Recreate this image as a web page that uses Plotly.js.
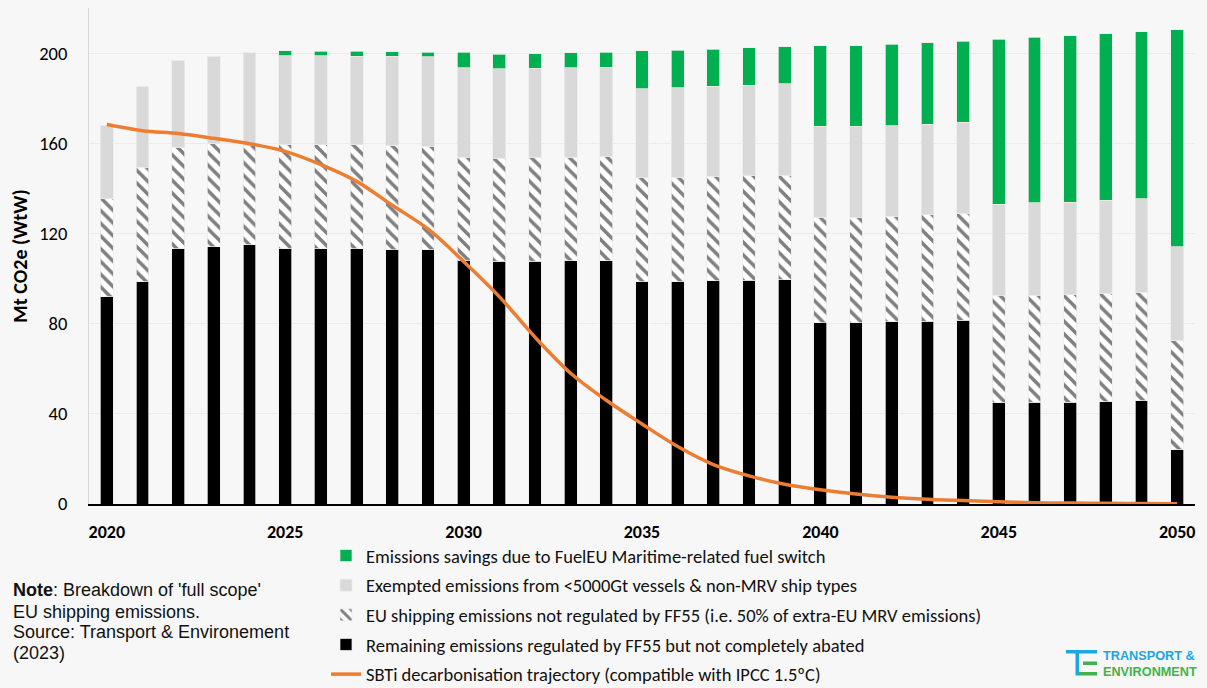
<!DOCTYPE html>
<html>
<head>
<meta charset="utf-8">
<script src="https://cdn.plot.ly/plotly-3.0.1.min.js"></script>
<style>
  html, body { margin: 0; padding: 0; background: #f7f7f7; }
  #chart { width: 1207px; height: 688px; }
</style>
</head>
<body>
<div id="chart"></div>
<script>
// ---------- DATA ----------
const years = [2020, 2021, 2022, 2023, 2024, 2025, 2026, 2027, 2028, 2029,
               2030, 2031, 2032, 2033, 2034, 2035, 2036, 2037, 2038, 2039,
               2040, 2041, 2042, 2043, 2044, 2045, 2046, 2047, 2048, 2049, 2050];

const remainingFF55 = [92.0, 98.5, 113.2, 114.1, 114.9, 113.2, 113.2, 113.2, 112.8, 112.8,
                       108.0, 107.7, 107.7, 108.0, 108.0, 98.5, 98.5, 99.0, 99.3, 99.4,
                       80.5, 80.5, 80.8, 81.1, 81.4, 45.0, 45.1, 45.1, 45.4, 45.7, 24.0];

const notRegulatedFF55 = [43.3, 50.8, 45.0, 45.7, 44.2, 46.2, 46.2, 46.2, 46.4, 45.9,
                          45.8, 45.6, 45.9, 45.8, 46.1, 46.1, 46.4, 46.3, 46.3, 46.5,
                          46.8, 46.8, 46.8, 47.1, 47.4, 47.5, 47.5, 47.8, 48.1, 48.3, 48.5];

const exempted = [32.7, 36.0, 38.6, 38.8, 41.0, 39.5, 39.5, 39.2, 39.4, 39.6,
                  39.8, 39.7, 39.7, 39.8, 39.6, 39.6, 39.8, 40.0, 40.1, 40.4,
                  40.2, 40.2, 40.2, 40.2, 40.5, 40.5, 41.0, 41.0, 41.2, 41.3, 41.7];

const fuelEUSavings = [0, 0, 0, 0, 0, 2.2, 1.9, 2.2, 2.1, 2.1,
                       6.8, 6.5, 6.5, 6.5, 6.7, 16.8, 16.6, 16.4, 16.6, 16.5,
                       35.8, 35.8, 36.1, 36.1, 36.0, 73.1, 73.4, 73.7, 73.8, 74.2, 96.2];

const sbtiTrajectory = [168.3, 165.6, 164.3, 162.2, 159.8, 156.4, 150.5, 143.1, 132.5, 122.0,
                        107.6, 92.0, 74.0, 58.0, 46.0, 35.5, 25.5, 17.5, 12.5, 8.8,
                        6.3, 4.4, 3.0, 2.1, 1.5, 1.0, 0.6, 0.4, 0.3, 0.2, 0.1];

const seriesNames = [
  "Emissions savings due to FuelEU Maritime-related fuel switch",
  "Exempted emissions from <5000Gt vessels & non-MRV ship types",
  "EU shipping emissions not regulated by FF55 (i.e. 50% of extra-EU MRV emissions)",
  "Remaining emissions regulated by FF55 but not completely abated",
  "SBTi decarbonisation trajectory (compatible with IPCC 1.5ºC)"
];

const xTickVals = [2020, 2025, 2030, 2035, 2040, 2045, 2050];
const yTickVals = [0, 40, 80, 120, 160, 200];

const noteLines = [
  "<b>Note</b>: Breakdown of 'full scope'",
  "EU shipping emissions.",
  "Source: Transport &amp; Environement",
  "(2023)"
];
const logoLine1 = "TRANSPORT &amp;";
const logoLine2 = "ENVIRONMENT";

// ---------- LAYOUT HELPERS ----------
const ML = 89, MT = 8, MR = 12, MB = 184;
const PW = 1207 - ML - MR, PH = 688 - MT - MB;
const px = p => (p - ML) / PW;
const py = p => (MT + PH - p) / PH;

const calibri = "Carlito, Lato, 'Open Sans', sans-serif";
const arial = "'Liberation Sans', Arial, sans-serif";
const barLine = { color: "rgba(235,235,235,0.9)", width: 0.8 };

const traces = [
  {
    type: "bar", x: years, y: remainingFF55, name: seriesNames[3],
    marker: { color: "#000000", line: barLine },
    legendgroup: "g4", legendrank: 4
  },
  {
    type: "bar", x: years, y: notRegulatedFF55, name: seriesNames[2],
    marker: {
      color: "#ffffff", line: barLine,
      pattern: { shape: "\\", fgcolor: "#7f7f7f", bgcolor: "#ffffff", size: 9, solidity: 0.4 }
    },
    legendgroup: "g3", legendrank: 3
  },
  {
    type: "bar", x: years, y: exempted, name: seriesNames[1],
    marker: { color: "#d9d9d9", line: barLine },
    legendgroup: "g2", legendrank: 2
  },
  {
    type: "bar", x: years, y: fuelEUSavings, name: seriesNames[0],
    marker: { color: "#00b050", line: barLine },
    legendgroup: "g1", legendrank: 1
  },
  {
    type: "scatter", mode: "lines", x: years, y: sbtiTrajectory, name: seriesNames[4],
    line: { color: "#ed7d31", width: 3.5, shape: "spline", smoothing: 1 },
    legendgroup: "g5", legendrank: 5
  }
];

const blue = "#1ba6e4", green = "#3db54a";
const rect = (x0, y0, x1, y1, c) => ({
  type: "rect", xref: "paper", yref: "paper",
  x0: px(x0), x1: px(x1), y0: py(y1), y1: py(y0),
  fillcolor: c, line: { width: 0 }, layer: "above"
});

const noteY = [590, 611.5, 632, 653];
const noteAnnotations = noteLines.map((t, i) => ({
  xref: "paper", yref: "paper", x: px(11), y: py(noteY[i]),
  xanchor: "left", yanchor: "middle", align: "left", showarrow: false,
  text: t, font: { family: arial, size: 18, color: "#111" }
}));

const layout = {
  width: 1207, height: 688,
  margin: { l: ML, r: MR, t: MT, b: MB, pad: 0, autoexpand: false },
  paper_bgcolor: "#f7f7f7",
  plot_bgcolor: "#f7f7f7",
  barmode: "stack",
  bargap: 0.64,
  showlegend: true,
  font: { family: calibri, color: "#000000" },
  xaxis: {
    type: "linear",
    range: [2019.5, 2050.5],
    tickmode: "array",
    tickvals: xTickVals,
    ticktext: xTickVals.map(String),
    tickfont: { family: calibri, size: 18, weight: 700, color: "#000" },
    ticks: "",
    ticklabelstandoff: 10,
    showgrid: false,
    zeroline: false,
    showline: true, linecolor: "#000000", linewidth: 2,
    automargin: false,
    fixedrange: true
  },
  yaxis: {
    range: [0, 220],
    tickmode: "array",
    tickvals: yTickVals,
    tickfont: { family: calibri, size: 18.5, color: "#000" },
    ticks: "",
    ticklabelstandoff: 17,
    showgrid: true, gridcolor: "#ebebeb", gridwidth: 1,
    zeroline: false,
    showline: true, linecolor: "#d9d9d9", linewidth: 1,
    title: { text: "<b>Mt CO2e (WtW)</b>", font: { family: calibri, size: 20, color: "#000" }, standoff: 6 },
    automargin: false,
    fixedrange: true
  },
  legend: {
    x: px(326), y: py(537), xanchor: "left", yanchor: "top",
    orientation: "v",
    traceorder: "grouped",
    tracegroupgap: 2.6,
    bgcolor: "rgba(0,0,0,0)",
    font: { family: calibri, size: 18.5, color: "#111" },
    itemwidth: 30
  },
  annotations: noteAnnotations.concat([
    {
      xref: "paper", yref: "paper", x: px(1101), y: py(656),
      xanchor: "left", yanchor: "middle", showarrow: false,
      text: "<b>" + logoLine1 + "</b>", font: { family: arial, size: 12.7, color: blue }
    },
    {
      xref: "paper", yref: "paper", x: px(1101), y: py(672),
      xanchor: "left", yanchor: "middle", showarrow: false,
      text: "<b>" + logoLine2 + "</b>", font: { family: arial, size: 12.7, color: green }
    }
  ]),
  shapes: [
    rect(1066, 650, 1097, 653.5, blue),
    rect(1075.5, 650, 1079, 675.5, blue),
    rect(1083, 661.5, 1097, 665, green),
    rect(1079, 672, 1097, 675.5, green)
  ]
};

Plotly.newPlot("chart", traces, layout, { displayModeBar: false, staticPlot: true });
</script>
</body>
</html>
